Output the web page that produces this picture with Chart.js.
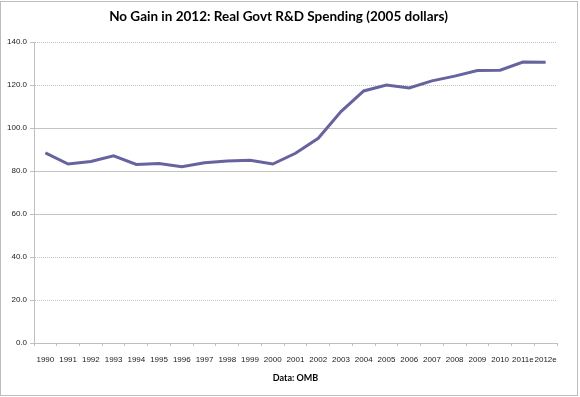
<!DOCTYPE html>
<html>
<head>
<meta charset="utf-8">
<script src="https://cdn.jsdelivr.net/npm/chart.js@4/dist/chart.umd.min.js"></script>
<style>
html,body{margin:0;padding:0;background:#fff;}
#wrap{width:580px;height:397px;position:relative;}
</style>
</head>
<body>
<div id="wrap"><canvas id="c" width="580" height="397"></canvas></div>
<script>
const titleText = 'No Gain in 2012: Real Govt R&D Spending (2005 dollars)';
const sourceText = 'Data: OMB';
const years = ['1990','1991','1992','1993','1994','1995','1996','1997','1998','1999','2000','2001','2002','2003','2004','2005','2006','2007','2008','2009','2010','2011e','2012e'];
const spending = [88.5,83.3,84.5,87.1,83.1,83.5,82.0,83.9,84.7,85.0,83.3,88.3,95.3,107.7,117.3,120.1,118.7,122.0,124.2,126.8,127.0,130.8,130.7];
const dottedTicks = [20,40,120,140];

const framePlugin = {
  id:'frame',
  beforeDraw(chart){
    const c = chart.ctx;
    c.save();
    c.fillStyle='#fff';
    c.fillRect(0,0,chart.width,chart.height);
    c.restore();
  },
  afterDraw(chart){
    const c = chart.ctx;
    c.save();
    c.strokeStyle='#bdbdbd';
    c.lineWidth=1;
    c.strokeRect(0.5,1.5,577,394);
    c.restore();
  }
};

const tickFont = {family:"'Liberation Sans', Arial, sans-serif", size:8};

new Chart(document.getElementById('c'), {
  type:'line',
  data:{
    labels: years,
    datasets:[{
      data: spending,
      borderColor:'#66639f',
      borderWidth:3,
      pointRadius:0,
      tension:0,
      fill:false
    }]
  },
  options:{
    responsive:false,
    animation:false,
    layout:{padding:{left:0,right:23,top:0,bottom:0}},
    plugins:{
      legend:{display:false},
      tooltip:{enabled:false},
      title:{
        display:true,
        text:titleText,
        color:'#000',
        font:{family:"Lato, sans-serif", size:13.5, weight:'bold'},
        padding:{top:9,bottom:17}
      }
    },
    scales:{
      x:{
        offset:true,
        grid:{display:true, drawOnChartArea:false, offset:true, color:'#bfbfbf', tickLength:3, tickColor:'#bfbfbf'},
        border:{display:true, color:'#bfbfbf', width:1},
        ticks:{color:'#222', font:tickFont, maxRotation:0, minRotation:0, autoSkip:false, padding:9},
        title:{display:true, text:sourceText, color:'#000', font:{family:"Lato, sans-serif", size:9, weight:'bold'}, padding:{top:4,bottom:14}},
        afterFit(s){ s.height = 54; }
      },
      y:{
        min:0, max:140,
        grid:{color:'#c4c4c4', tickLength:4, tickColor:'#bfbfbf'},
        border:{display:true, color:'#bfbfbf', width:1,
          dash: ctx => (ctx.tick && dottedTicks.includes(ctx.tick.value)) ? [1,1] : []},
        ticks:{stepSize:20, color:'#222', font:tickFont, padding:3,
          callback: v => Number(v).toFixed(1)},
        afterFit(s){ s.width = 34; }
      }
    }
  },
  plugins:[framePlugin]
});
</script>
</body>
</html>
